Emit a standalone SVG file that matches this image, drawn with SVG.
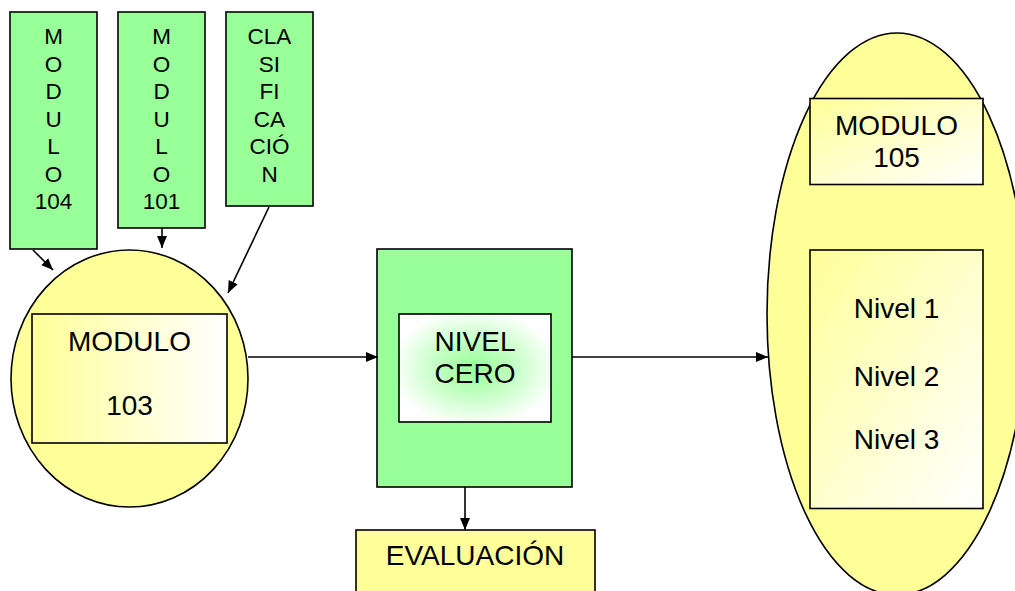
<svg xmlns="http://www.w3.org/2000/svg" width="1015" height="591" viewBox="0 0 1015 591">
<style>
.g{fill:#99FF99;stroke:#000;stroke-width:1.6}
.y{fill:#FFFF99;stroke:#000;stroke-width:1.6}
.b{stroke:#000;stroke-width:1.6}
.t{font-family:"Liberation Sans",Arial,sans-serif;font-size:28px;fill:#000;text-anchor:middle}
.v{font-family:"Liberation Sans",Arial,sans-serif;font-size:22.5px;fill:#000;text-anchor:middle}
.c{stroke:#000;stroke-width:1.6;fill:none;marker-end:url(#ah)}
</style>
<defs>
<marker id="ah" markerUnits="userSpaceOnUse" markerWidth="13" markerHeight="11" refX="12" refY="5" orient="auto">
<path d="M0,0 L12,5 L0,10 z" fill="#000"/>
</marker>
<linearGradient id="gh" x1="0" y1="0" x2="1" y2="0">
<stop offset="0" stop-color="#FFFF99"/>
<stop offset="1" stop-color="#FFFFFF"/>
</linearGradient>
<linearGradient id="gd" x1="0" y1="0" x2="1" y2="1">
<stop offset="0" stop-color="#FFFF99"/>
<stop offset="1" stop-color="#FFFFFF"/>
</linearGradient>
<radialGradient id="gr" cx="0.5" cy="0.5" r="0.55">
<stop offset="0" stop-color="#99FF99"/>
<stop offset="0.35" stop-color="#B8FFB8"/>
<stop offset="1" stop-color="#FFFFFF"/>
</radialGradient>
</defs>

<g id="modulo104">
<rect class="g" x="10" y="12" width="87" height="237"/>
<text class="v" x="53.5" y="44.3">M</text>
<text class="v" x="53.5" y="71.7">O</text>
<text class="v" x="53.5" y="99.2">D</text>
<text class="v" x="53.5" y="126.7">U</text>
<text class="v" x="53.5" y="154.2">L</text>
<text class="v" x="53.5" y="181.7">O</text>
<text class="v" x="53.5" y="209.2">104</text>
</g>

<g id="modulo101">
<rect class="g" x="118" y="12" width="87" height="216"/>
<text class="v" x="161.5" y="44.3">M</text>
<text class="v" x="161.5" y="71.7">O</text>
<text class="v" x="161.5" y="99.2">D</text>
<text class="v" x="161.5" y="126.7">U</text>
<text class="v" x="161.5" y="154.2">L</text>
<text class="v" x="161.5" y="181.7">O</text>
<text class="v" x="161.5" y="209.2">101</text>
</g>

<g id="clasificacion">
<rect class="g" x="226" y="12" width="87" height="194"/>
<text class="v" x="269.5" y="44.3">CLA</text>
<text class="v" x="269.5" y="71.7">SI</text>
<text class="v" x="269.5" y="99.2">FI</text>
<text class="v" x="269.5" y="126.7">CA</text>
<text class="v" x="269.5" y="154.2">CIÓ</text>
<text class="v" x="269.5" y="181.7">N</text>
</g>

<g id="modulo103">
<ellipse class="y" cx="129.5" cy="378.5" rx="118.5" ry="128.5"/>
<rect x="32" y="314" width="195" height="129" fill="url(#gh)" class="b"/>
<text class="t" x="129.5" y="351">MODULO</text>
<text class="t" x="129.5" y="415">103</text>
</g>

<g id="nivelcero">
<rect class="g" x="377" y="249" width="195" height="238"/>
<rect x="399" y="314" width="152" height="108" fill="url(#gr)" class="b"/>
<text class="t" x="475" y="351">NIVEL</text>
<text class="t" x="475" y="383">CERO</text>
</g>

<g id="evaluacion">
<rect class="y" x="356" y="530" width="239" height="70"/>
<text class="t" x="475" y="565">EVALUACIÓN</text>
</g>

<g id="modulo105">
<ellipse class="y" cx="897" cy="314" rx="130" ry="281"/>
<rect x="810" y="98.5" width="173" height="86" fill="url(#gd)" class="b"/>
<text class="t" x="896.5" y="135">MODULO</text>
<text class="t" x="896.5" y="167">105</text>
<rect x="810" y="250" width="173" height="258.5" fill="url(#gd)" class="b"/>
<text class="t" x="896.5" y="318">Nivel 1</text>
<text class="t" x="896.5" y="386">Nivel 2</text>
<text class="t" x="896.5" y="449">Nivel 3</text>
</g>

<g id="connectors">
<line class="c" x1="33" y1="250" x2="53" y2="270"/>
<line class="c" x1="162" y1="228" x2="162" y2="248"/>
<line class="c" x1="269" y1="207" x2="228" y2="293"/>
<line class="c" x1="248" y1="357" x2="378" y2="357"/>
<line class="c" x1="465" y1="487" x2="465" y2="530"/>
<line class="c" x1="572" y1="357" x2="768" y2="357"/>
</g>
</svg>
